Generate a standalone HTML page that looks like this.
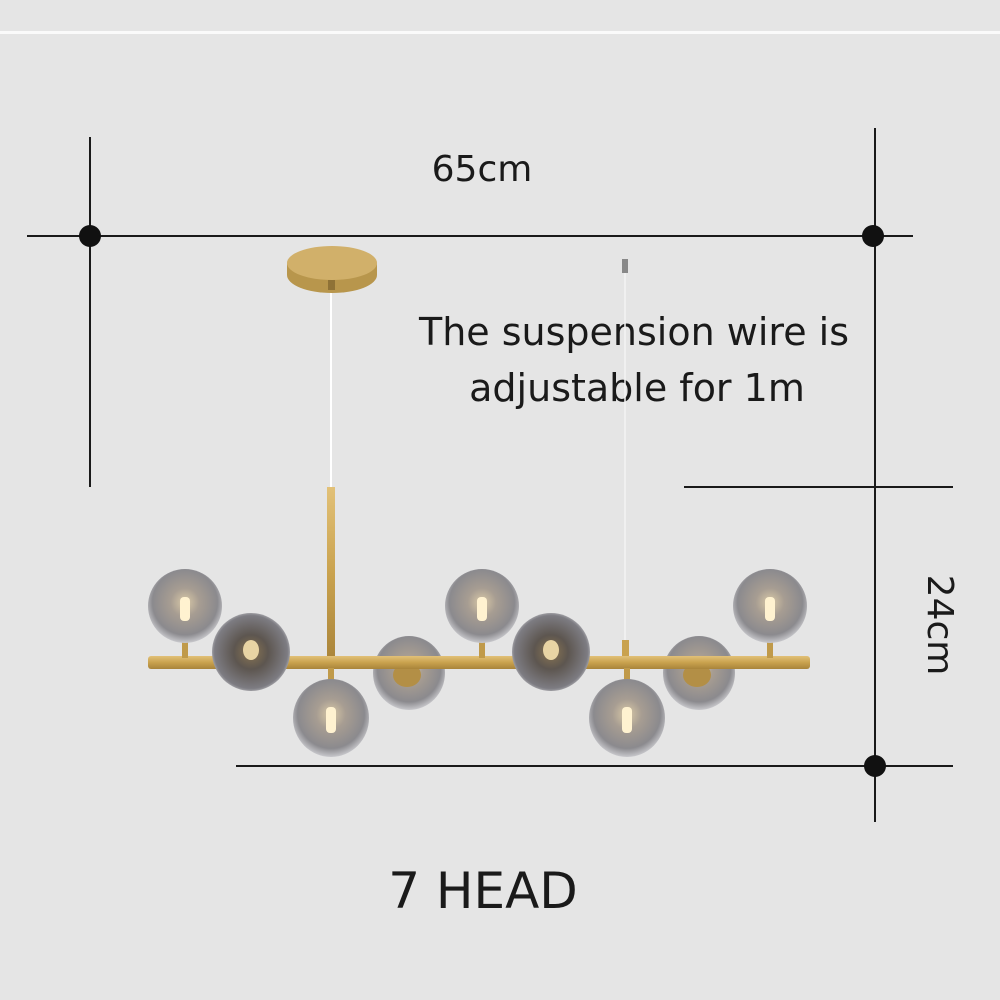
<!DOCTYPE html>
<html><head><style>
html,body{margin:0;padding:0;background:#e5e5e5;}
svg{display:block}
text{font-family:"DejaVu Sans","Liberation Sans",sans-serif;fill:#1a1a1a}
</style></head><body>
<svg width="1000" height="1000" viewBox="0 0 1000 1000" xmlns="http://www.w3.org/2000/svg">
<defs>
<radialGradient id="g" cx="0.5" cy="0.45" r="0.55">
<stop offset="0" stop-color="#d9c9a8"/>
<stop offset="0.35" stop-color="#a79d92"/>
<stop offset="0.8" stop-color="#8b8a8e"/>
<stop offset="1" stop-color="#c8c8cc"/>
</radialGradient>
<radialGradient id="d" cx="0.5" cy="0.5" r="0.55">
<stop offset="0" stop-color="#8a7552"/>
<stop offset="0.4" stop-color="#5d5650"/>
<stop offset="0.85" stop-color="#7d7c82"/>
<stop offset="1" stop-color="#cfcfd2"/>
</radialGradient>
<linearGradient id="gold" x1="0" y1="0" x2="0" y2="1">
<stop offset="0" stop-color="#e2c178"/><stop offset="0.5" stop-color="#c9a24e"/><stop offset="1" stop-color="#a9843a"/>
</linearGradient>
</defs>
<rect width="1000" height="1000" fill="#e5e5e5"/>
<rect x="0" y="31" width="1000" height="3" fill="#fafafa"/>
<!-- dimension lines -->
<g stroke="#1a1a1a" stroke-width="2">
<line x1="27" y1="236" x2="913" y2="236"/>
<line x1="90" y1="137" x2="90" y2="487"/>
<line x1="875" y1="128" x2="875" y2="822"/>
<line x1="684" y1="487" x2="953" y2="487"/>
<line x1="236" y1="766" x2="953" y2="766"/>
</g>
<circle cx="90" cy="236" r="11" fill="#111"/>
<circle cx="873" cy="236" r="11" fill="#111"/>
<circle cx="875" cy="766" r="11" fill="#111"/>
<text x="482" y="181" font-size="36" text-anchor="middle">65cm</text>
<text x="634" y="345" font-size="38" text-anchor="middle">The suspension wire is</text>
<text x="637" y="401" font-size="38" text-anchor="middle">adjustable for 1m</text>
<text transform="translate(928,625) rotate(90)" font-size="36" text-anchor="middle">24cm</text>
<text x="483" y="908" font-size="50" text-anchor="middle">7 HEAD</text>
<!-- canopy & wires -->
<line x1="331" y1="290" x2="331" y2="487" stroke="#fff" stroke-width="2"/>
<line x1="625" y1="268" x2="625" y2="645" stroke="#f4f4f4" stroke-width="1.5"/>
<rect x="622" y="259" width="6" height="14" fill="#888"/>
<path d="M287,265 a45,18 0 0 1 90,0 v10 a45,18 0 0 1 -90,0z" fill="#b8964c"/>
<ellipse cx="332" cy="263" rx="45" ry="17" fill="#d1b06a"/>
<rect x="328" y="280" width="7" height="10" fill="#8f7236"/>
<!-- rod -->
<rect x="327" y="487" width="8" height="175" fill="url(#gold)"/>
<rect x="622" y="640" width="7" height="20" fill="#c9a24e"/>
<!-- back globes -->
<ellipse cx="409" cy="673" rx="36" ry="37" fill="url(#g)"/>
<ellipse cx="699" cy="673" rx="36" ry="37" fill="url(#g)"/>
<ellipse cx="407" cy="675" rx="14" ry="12" fill="#b38f46"/>
<ellipse cx="697" cy="675" rx="14" ry="12" fill="#b38f46"/>
<!-- bar -->
<rect x="148" y="656" width="662" height="13" rx="3" fill="url(#gold)"/>
<!-- stems -->
<g fill="#c09a4a">
<rect x="182" y="640" width="6" height="18"/><rect x="479" y="640" width="6" height="18"/><rect x="767" y="640" width="6" height="18"/>
<rect x="328" y="668" width="6" height="14"/><rect x="624" y="668" width="6" height="14"/>
</g>
<!-- upper globes -->
<g>
<ellipse cx="185" cy="606" rx="37" ry="37" fill="url(#g)"/>
<ellipse cx="482" cy="606" rx="37" ry="37" fill="url(#g)"/>
<ellipse cx="770" cy="606" rx="37" ry="37" fill="url(#g)"/>
<ellipse cx="331" cy="718" rx="38" ry="39" fill="url(#g)"/>
<ellipse cx="627" cy="718" rx="38" ry="39" fill="url(#g)"/>
</g>
<g fill="#fff2d0">
<rect x="180" y="597" width="10" height="24" rx="4"/>
<rect x="477" y="597" width="10" height="24" rx="4"/>
<rect x="765" y="597" width="10" height="24" rx="4"/>
<rect x="326" y="707" width="10" height="26" rx="4"/>
<rect x="622" y="707" width="10" height="26" rx="4"/>
</g>
<ellipse cx="251" cy="652" rx="39" ry="39" fill="url(#d)"/>
<ellipse cx="551" cy="652" rx="39" ry="39" fill="url(#d)"/>
<ellipse cx="251" cy="650" rx="8" ry="10" fill="#e8d4a4"/>
<ellipse cx="551" cy="650" rx="8" ry="10" fill="#e8d4a4"/>
</svg>
</body></html>
